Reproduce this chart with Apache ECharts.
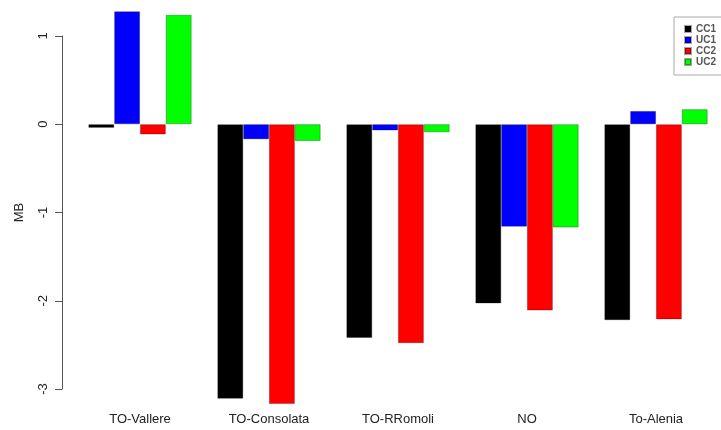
<!DOCTYPE html>
<html>
<head>
<meta charset="utf-8">
<script src="https://cdn.jsdelivr.net/npm/echarts@6/dist/echarts.min.js"></script>
<style>
  html, body { margin: 0; padding: 0; background: #fff; }
  #chart { width: 721px; height: 430px; }
</style>
</head>
<body>
<div id="chart"></div>
<script>
var sites = ['TO-Vallere', 'TO-Consolata', 'TO-RRomoli', 'NO', 'To-Alenia'];
var cc1 = [-0.04, -3.11, -2.42, -2.03, -2.22];
var uc1 = [1.28, -0.17, -0.07, -1.16, 0.15];
var cc2 = [-0.115, -3.17, -2.48, -2.11, -2.21];
var uc2 = [1.24, -0.19, -0.09, -1.17, 0.17];
var yTicks = [-3, -2, -1, 0, 1];

var chart = echarts.init(document.getElementById('chart'));

function bars(name, data, color) {
    return {
        name: name,
        type: 'bar',
        data: data,
        clip: false,
        barGap: '0%',
        barCategoryGap: '20%',
        itemStyle: {
            color: color,
            borderColor: 'rgba(0,0,0,0.35)',
            borderWidth: 0.8
        }
    };
}

var option = {
    animation: false,
    textStyle: { fontFamily: 'Liberation Sans' },
    grid: { left: 75.5, top: 36, width: 645, height: 353 },
    legend: {
        orient: 'vertical',
        left: 674,
        top: 17,
        padding: [7, 20, 8, 10],
        itemGap: 1,
        itemWidth: 6,
        itemHeight: 6,
        icon: 'rect',
        borderColor: '#aaa',
        borderWidth: 1,
        textStyle: { fontSize: 10, lineHeight: 10, color: '#555', fontWeight: 'bold' },
        data: ['CC1', 'UC1', 'CC2', 'UC2']
    },
    xAxis: {
        type: 'category',
        data: sites,
        axisLine: { show: false, onZero: false },
        axisTick: { show: false },
        axisLabel: { margin: 24, fontSize: 13, color: '#222' }
    },
    yAxis: {
        type: 'value',
        min: yTicks[0],
        max: yTicks[yTicks.length - 1],
        interval: 1,
        offset: 13.5,
        name: 'MB',
        nameLocation: 'middle',
        nameRotate: 90,
        nameGap: 36,
        nameTextStyle: { fontSize: 13, color: '#222' },
        splitLine: { show: false },
        axisLine: { show: true, lineStyle: { color: '#555', width: 1 } },
        axisTick: { show: true, length: 7, lineStyle: { color: '#555' } },
        axisLabel: { rotate: 90, margin: 12, fontSize: 13, color: '#222' }
    },
    series: [
        bars('CC1', cc1, '#000000'),
        bars('UC1', uc1, '#0000ff'),
        bars('CC2', cc2, '#ff0000'),
        bars('UC2', uc2, '#00ff00')
    ]
};

chart.setOption(option);
</script>
</body>
</html>
